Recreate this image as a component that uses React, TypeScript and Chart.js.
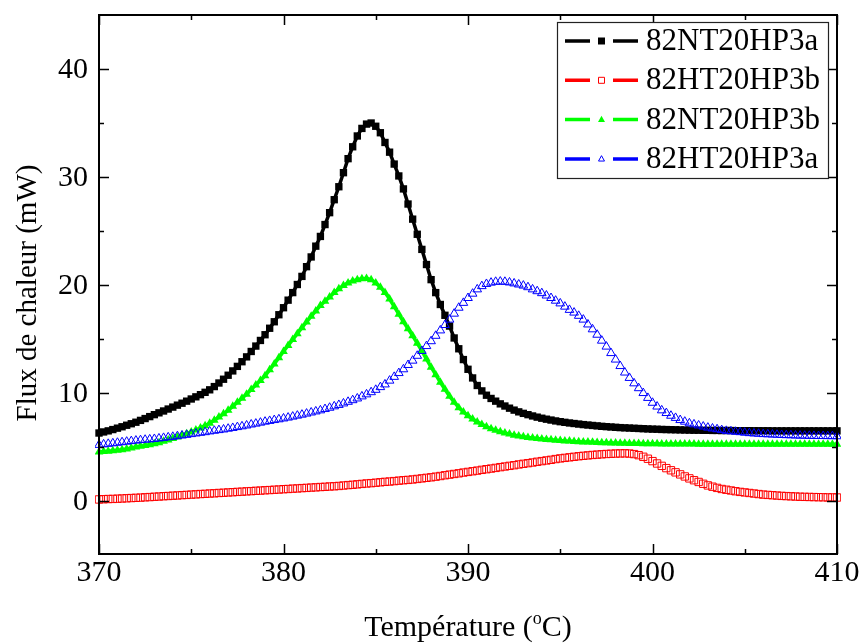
import React, { useEffect, useRef } from "react";
import { Chart, registerables } from "chart.js";

Chart.register(...registerables);

// Sampling grid of the temperature axis (°C)
const T_START = 370;
const T_STEP = 0.25;

// Series values (mW), one value every 0.25 °C from 370 to 410
const nt20hp3a = [
  6.3, 6.4, 6.5, 6.62, 6.75, 6.88, 7.02, 7.16, 7.3, 7.47, 7.64, 7.82,
  8.0, 8.17, 8.34, 8.52, 8.7, 8.88, 9.06, 9.25, 9.45, 9.65, 9.85, 10.07,
  10.3, 10.6, 10.93, 11.28, 11.65, 12.05, 12.47, 12.9, 13.35, 13.85, 14.35, 14.87,
  15.4, 16.0, 16.6, 17.25, 17.9, 18.6, 19.3, 20.05, 20.8, 21.7, 22.6, 23.6,
  24.5, 25.6, 26.7, 27.9, 29.1, 30.4, 31.7, 32.8, 33.8, 34.5, 34.9, 35.0,
  34.7, 34.1, 33.2, 32.3, 31.2, 30.1, 28.9, 27.5, 26.1, 24.7, 23.3, 21.9,
  20.5, 19.3, 18.2, 17.2, 16.2, 15.1, 14.1, 13.1, 12.2, 11.4, 10.7, 10.2,
  9.8, 9.5, 9.25, 9.0, 8.8, 8.6, 8.42, 8.26, 8.12, 8.0, 7.88, 7.77,
  7.67, 7.58, 7.5, 7.42, 7.35, 7.29, 7.23, 7.18, 7.13, 7.08, 7.04, 7.0,
  6.96, 6.92, 6.89, 6.86, 6.83, 6.8, 6.78, 6.76, 6.74, 6.72, 6.7, 6.68,
  6.66, 6.65, 6.63, 6.62, 6.61, 6.6, 6.59, 6.58, 6.57, 6.56, 6.56, 6.55,
  6.55, 6.54, 6.54, 6.53, 6.53, 6.53, 6.52, 6.52, 6.52, 6.52, 6.51, 6.51,
  6.51, 6.51, 6.5, 6.5, 6.5, 6.5, 6.5, 6.5, 6.5, 6.5, 6.5, 6.5,
  6.5, 6.5, 6.5, 6.5, 6.5,
];

const ht20hp3b = [
  0.15, 0.17, 0.19, 0.2, 0.22, 0.24, 0.26, 0.28, 0.3, 0.32, 0.35, 0.37,
  0.4, 0.42, 0.45, 0.47, 0.5, 0.52, 0.55, 0.57, 0.6, 0.62, 0.65, 0.67,
  0.7, 0.72, 0.75, 0.77, 0.8, 0.82, 0.85, 0.87, 0.9, 0.92, 0.95, 0.97,
  1.0, 1.02, 1.05, 1.07, 1.1, 1.12, 1.15, 1.17, 1.2, 1.22, 1.25, 1.27,
  1.3, 1.32, 1.35, 1.37, 1.4, 1.44, 1.48, 1.51, 1.55, 1.59, 1.63, 1.66,
  1.7, 1.74, 1.78, 1.81, 1.85, 1.89, 1.93, 1.96, 2.0, 2.05, 2.1, 2.15,
  2.2, 2.26, 2.32, 2.39, 2.45, 2.51, 2.57, 2.64, 2.7, 2.76, 2.82, 2.89,
  2.95, 3.01, 3.07, 3.14, 3.2, 3.26, 3.32, 3.39, 3.45, 3.51, 3.57, 3.64,
  3.7, 3.76, 3.82, 3.89, 3.95, 4.0, 4.05, 4.1, 4.15, 4.19, 4.23, 4.27,
  4.3, 4.33, 4.36, 4.38, 4.4, 4.41, 4.42, 4.4, 4.35, 4.25, 4.1, 3.92,
  3.7, 3.48, 3.26, 3.05, 2.85, 2.66, 2.47, 2.28, 2.1, 1.93, 1.77, 1.6,
  1.45, 1.33, 1.22, 1.12, 1.05, 0.98, 0.91, 0.85, 0.8, 0.75, 0.7, 0.65,
  0.6, 0.57, 0.54, 0.51, 0.48, 0.46, 0.44, 0.42, 0.4, 0.39, 0.38, 0.37,
  0.36, 0.35, 0.34, 0.34, 0.33,
];

const nt20hp3b = [
  4.55, 4.58, 4.62, 4.66, 4.7, 4.76, 4.83, 4.91, 5.0, 5.07, 5.14, 5.22,
  5.3, 5.41, 5.53, 5.66, 5.8, 5.94, 6.09, 6.24, 6.4, 6.58, 6.77, 6.98,
  7.2, 7.48, 7.78, 8.08, 8.4, 8.77, 9.15, 9.52, 9.9, 10.32, 10.74, 11.17,
  11.6, 12.15, 12.7, 13.28, 13.85, 14.4, 14.95, 15.5, 16.05, 16.58, 17.1, 17.6,
  18.1, 18.5, 18.9, 19.3, 19.65, 19.95, 20.2, 20.38, 20.5, 20.58, 20.6, 20.5,
  20.2, 19.8, 19.3, 18.7, 18.0, 17.3, 16.6, 15.95, 15.3, 14.6, 13.9, 13.15,
  12.4, 11.7, 11.0, 10.35, 9.7, 9.15, 8.65, 8.25, 7.9, 7.6, 7.33, 7.1,
  6.88, 6.7, 6.55, 6.42, 6.3, 6.2, 6.1, 6.02, 5.95, 5.89, 5.84, 5.79,
  5.75, 5.71, 5.67, 5.63, 5.6, 5.57, 5.55, 5.52, 5.5, 5.48, 5.46, 5.44,
  5.42, 5.41, 5.4, 5.38, 5.37, 5.36, 5.35, 5.34, 5.33, 5.32, 5.31, 5.31,
  5.3, 5.3, 5.29, 5.29, 5.29, 5.29, 5.28, 5.28, 5.28, 5.28, 5.27, 5.27,
  5.27, 5.27, 5.26, 5.26, 5.26, 5.26, 5.26, 5.25, 5.25, 5.25, 5.25, 5.25,
  5.25, 5.25, 5.25, 5.25, 5.25, 5.25, 5.25, 5.25, 5.25, 5.25, 5.25, 5.25,
  5.25, 5.25, 5.25, 5.25, 5.25,
];

const ht20hp3a = [
  5.2, 5.25, 5.3, 5.35, 5.4, 5.45, 5.5, 5.55, 5.6, 5.64, 5.68, 5.71,
  5.75, 5.8, 5.85, 5.9, 5.95, 6.01, 6.07, 6.13, 6.2, 6.26, 6.32, 6.38,
  6.45, 6.51, 6.57, 6.63, 6.7, 6.77, 6.85, 6.92, 7.0, 7.09, 7.17, 7.26,
  7.35, 7.42, 7.5, 7.57, 7.65, 7.73, 7.82, 7.91, 8.0, 8.1, 8.2, 8.3,
  8.4, 8.52, 8.64, 8.77, 8.9, 9.04, 9.19, 9.34, 9.5, 9.69, 9.88, 10.08,
  10.3, 10.55, 10.8, 11.15, 11.5, 11.85, 12.2, 12.6, 13.0, 13.45, 13.9, 14.35,
  14.8, 15.3, 15.8, 16.3, 16.8, 17.35, 17.9, 18.35, 18.8, 19.2, 19.6, 19.9,
  20.1, 20.22, 20.3, 20.32, 20.3, 20.24, 20.15, 20.05, 19.95, 19.8, 19.6, 19.43,
  19.25, 19.03, 18.8, 18.55, 18.3, 18.0, 17.7, 17.45, 17.15, 16.8, 16.35, 15.9,
  15.4, 14.85, 14.3, 13.7, 13.1, 12.5, 11.9, 11.4, 10.9, 10.45, 10.0, 9.55,
  9.1, 8.75, 8.4, 8.15, 7.9, 7.7, 7.5, 7.35, 7.2, 7.1, 7.0, 6.9,
  6.8, 6.72, 6.65, 6.57, 6.5, 6.46, 6.42, 6.38, 6.33, 6.29, 6.26, 6.23,
  6.2, 6.18, 6.16, 6.14, 6.12, 6.1, 6.09, 6.07, 6.06, 6.05, 6.04, 6.03,
  6.02, 6.02, 6.01, 6.01, 6.0,
];

const seriesNames = ["82NT20HP3a", "82HT20HP3b", "82NT20HP3b", "82HT20HP3a"];
const xTickValues = [370, 380, 390, 400, 410];
const xMinorValues = [375, 385, 395, 405];
const yTickValues = [0, 10, 20, 30, 40];
const yMinorValues = [5, 15, 25, 35];
const X_MIN = 370;
const X_MAX = 410;
const Y_MIN = -4.9;
const Y_MAX = 45;

const FONT = "'Liberation Serif', 'Times New Roman', serif";

const toPoints = (vals: number[]) =>
  vals.map((v, i) => ({ x: T_START + i * T_STEP, y: v }));

type Style = { color: string; shape: "rect" | "triangle"; filled: boolean };
const styles: Style[] = [
  { color: "#000000", shape: "rect", filled: true },
  { color: "#ff0000", shape: "rect", filled: false },
  { color: "#00ff00", shape: "triangle", filled: true },
  { color: "#0000ff", shape: "triangle", filled: false },
];

function drawMarker(ctx: CanvasRenderingContext2D, s: Style, x: number, y: number, size: number) {
  ctx.beginPath();
  if (s.shape === "rect") {
    ctx.rect(x - size / 2, y - size / 2, size, size);
  } else {
    const h = size * 0.9;
    ctx.moveTo(x, y - h * 0.6);
    ctx.lineTo(x + size / 2, y + h * 0.4);
    ctx.lineTo(x - size / 2, y + h * 0.4);
    ctx.closePath();
  }
  if (s.filled) {
    ctx.fillStyle = s.color;
    ctx.fill();
  } else {
    ctx.strokeStyle = s.color;
    ctx.lineWidth = 1;
    ctx.stroke();
  }
}

const framePlugin = {
  id: "originFrame",
  afterDraw(chart: any) {
    const { ctx, chartArea: a, scales } = chart;
    const xs = scales.x;
    const ys = scales.y;
    ctx.save();
    ctx.strokeStyle = "#000";
    ctx.lineWidth = 2;
    ctx.strokeRect(a.left, a.top, a.right - a.left, a.bottom - a.top);

    const tick = (vals: number[], len: number) => {
      vals.forEach((v) => {
        const px = Math.round(xs.getPixelForValue(v)) + 0.5;
        ctx.beginPath();
        ctx.moveTo(px, a.bottom);
        ctx.lineTo(px, a.bottom - len);
        ctx.moveTo(px, a.top);
        ctx.lineTo(px, a.top + len);
        ctx.stroke();
      });
    };
    const ytick = (vals: number[], len: number) => {
      vals.forEach((v) => {
        const py = Math.round(ys.getPixelForValue(v)) + 0.5;
        ctx.beginPath();
        ctx.moveTo(a.left, py);
        ctx.lineTo(a.left + len, py);
        ctx.moveTo(a.right, py);
        ctx.lineTo(a.right - len, py);
        ctx.stroke();
      });
    };
    ctx.lineWidth = 1.5;
    tick(xTickValues, 10);
    tick(xMinorValues, 5);
    ytick(yTickValues, 10);
    ytick(yMinorValues, 5);

    // Tick labels
    ctx.fillStyle = "#000";
    ctx.font = `30px ${FONT}`;
    ctx.textAlign = "center";
    ctx.textBaseline = "alphabetic";
    xTickValues.forEach((v) => {
      ctx.fillText(String(v), xs.getPixelForValue(v), 581);
    });
    ctx.textAlign = "right";
    ctx.textBaseline = "middle";
    yTickValues.forEach((v) => {
      ctx.fillText(String(v), a.left - 11, ys.getPixelForValue(v) + 1);
    });

    // X title with superscript o
    ctx.textBaseline = "alphabetic";
    ctx.textAlign = "left";
    const big = `30px ${FONT}`;
    const small = `18px ${FONT}`;
    const p1 = "Température (";
    const p2 = "o";
    const p3 = "C)";
    ctx.font = big;
    const w1 = ctx.measureText(p1).width;
    const w3 = ctx.measureText(p3).width;
    ctx.font = small;
    const w2 = ctx.measureText(p2).width;
    const total = w1 + w2 + w3;
    const cx = (a.left + a.right) / 2;
    let tx = cx - total / 2;
    const baseY = 636;
    ctx.font = big;
    ctx.fillText(p1, tx, baseY);
    tx += w1;
    ctx.font = small;
    ctx.fillText(p2, tx, baseY - 12);
    tx += w2;
    ctx.font = big;
    ctx.fillText(p3, tx, baseY);

    // Y title
    ctx.save();
    ctx.translate(36, 293);
    ctx.rotate(-Math.PI / 2);
    ctx.textAlign = "center";
    ctx.font = `29px ${FONT}`;
    ctx.fillText("Flux de chaleur (mW)", 0, 0);
    ctx.restore();

    // Legend
    const bx = 557, by = 22, bw = 271, bh = 156;
    ctx.fillStyle = "#fff";
    ctx.fillRect(bx, by, bw, bh);
    ctx.strokeStyle = "#222";
    ctx.lineWidth = 1.2;
    ctx.strokeRect(bx + 0.5, by + 0.5, bw, bh);
    seriesNames.forEach((name, i) => {
      const s = styles[i];
      const y = 41 + i * 39.3;
      ctx.strokeStyle = s.color;
      ctx.lineWidth = 3.5;
      ctx.beginPath();
      ctx.moveTo(565, y);
      ctx.lineTo(590, y);
      ctx.moveTo(613, y);
      ctx.lineTo(638, y);
      ctx.stroke();
      drawMarker(ctx, s, 601.5, y, s.filled ? 7 : 6);
      ctx.fillStyle = "#000";
      ctx.font = `31px ${FONT}`;
      ctx.textAlign = "left";
      ctx.textBaseline = "middle";
      ctx.fillText(name, 646, y + 1);
    });
    ctx.restore();
  },
};

export default function App() {
  const ref = useRef<HTMLCanvasElement | null>(null);
  useEffect(() => {
    if (!ref.current) return;
    const series = [nt20hp3a, ht20hp3b, nt20hp3b, ht20hp3a];
    const datasets = series.map((vals, i) => {
      const s = styles[i];
      const isRect = s.shape === "rect";
      return {
        label: seriesNames[i],
        data: toPoints(vals),
        order: 3 - i,
        showLine: s.filled,
        borderColor: s.color,
        borderWidth: s.filled ? 3.5 : 0,
        backgroundColor: s.color,
        pointStyle: s.shape,
        pointRadius: isRect ? 5.2 : 5,
        pointBorderWidth: s.filled ? 0 : 1,
        pointBorderColor: s.color,
        pointBackgroundColor: s.filled ? s.color : "rgba(0,0,0,0)",
        tension: 0,
        clip: 4,
      };
    });
    const chart = new Chart(ref.current, {
      type: "line",
      data: { datasets: datasets as any },
      options: {
        animation: false,
        responsive: false,
        devicePixelRatio: 1,
        events: [],
        layout: { padding: { left: 0, right: 24, top: 15, bottom: 0 } },
        plugins: { legend: { display: false }, tooltip: { enabled: false } },
        scales: {
          x: {
            type: "linear",
            min: X_MIN,
            max: X_MAX,
            grid: { display: false, drawTicks: false },
            border: { display: false },
            ticks: { display: false },
            afterFit: (s: any) => {
              s.height = 89;
            },
          },
          y: {
            type: "linear",
            min: Y_MIN,
            max: Y_MAX,
            grid: { display: false, drawTicks: false },
            border: { display: false },
            ticks: { display: false },
            afterFit: (s: any) => {
              s.width = 99;
            },
          },
        },
      },
      plugins: [framePlugin],
    });
    return () => chart.destroy();
  }, []);

  return (
    <div style={{ position: "absolute", left: 0, top: 0, width: 861, height: 643, background: "#fff" }}>
      <canvas ref={ref} width={861} height={643} style={{ display: "block" }} />
    </div>
  );
}
